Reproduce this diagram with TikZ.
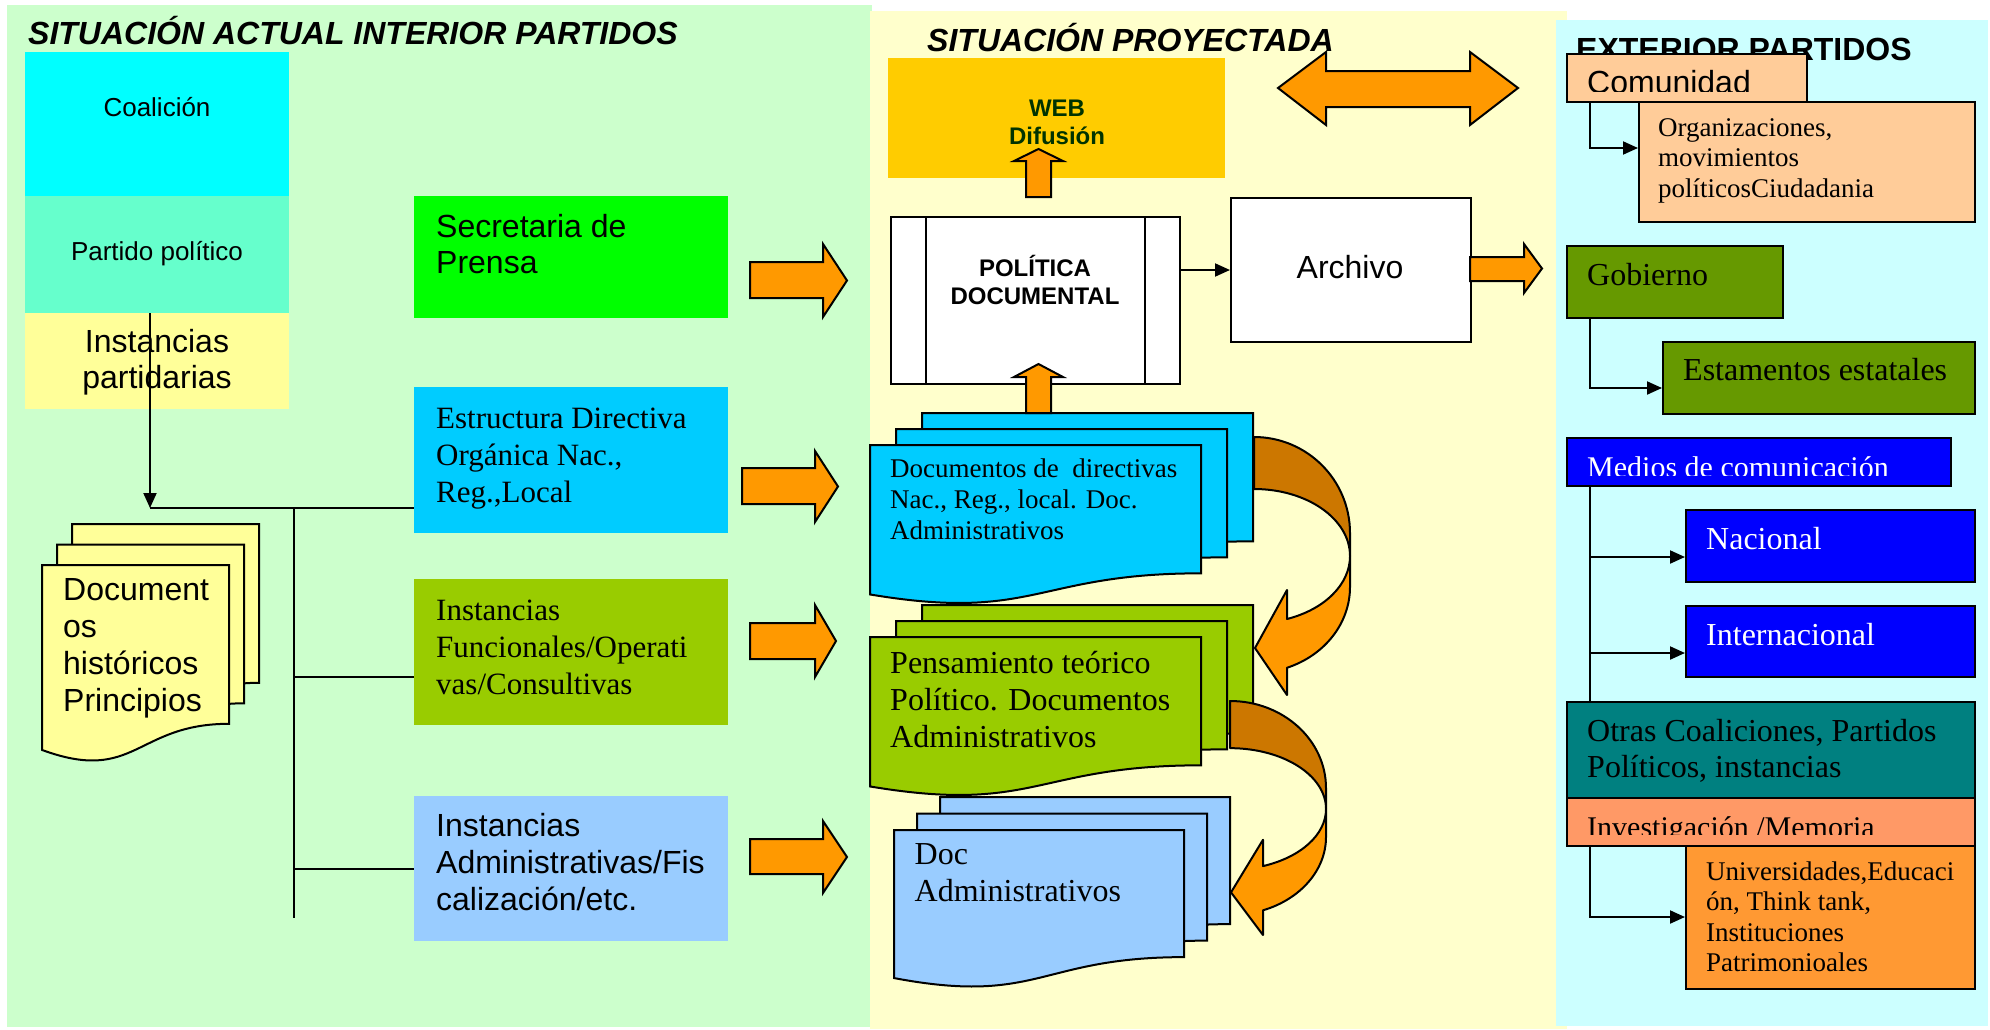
\documentclass[tikz,border=0pt]{standalone}
\usepackage{fontspec}
\setmainfont{Liberation Serif}
\setsansfont{Liberation Sans}
\usetikzlibrary{arrows.meta,calc}
\definecolor{pgreen}{HTML}{CCFFCC}
\definecolor{pyellow}{HTML}{FFFFCC}
\definecolor{pcyan}{HTML}{CCFFFF}
\definecolor{cCoal}{HTML}{00FFFF}
\definecolor{cPart}{HTML}{66FFCC}
\definecolor{cInst}{HTML}{FFFF99}
\definecolor{cSec}{HTML}{00FF00}
\definecolor{cEst}{HTML}{00CCFF}
\definecolor{cFun}{HTML}{99CC00}
\definecolor{cAdm}{HTML}{99CCFF}
\definecolor{orangeA}{HTML}{FF9900}
\definecolor{ribbon}{HTML}{CC7700}
\definecolor{cWeb}{HTML}{FFCC00}
\definecolor{webtext}{HTML}{003300}
\definecolor{cCom}{HTML}{FFCC99}
\definecolor{cGob}{HTML}{669900}
\definecolor{cMed}{HTML}{0000FF}
\definecolor{cOtr}{HTML}{008080}
\definecolor{cInv}{HTML}{FF9966}
\definecolor{cUni}{HTML}{FF9933}
\newcommand\fsz[2]{\fontsize{#1}{#2}\selectfont}
\newcommand\linesL[1]{\vtop{\halign{##\hfil\cr#1\crcr}}}
\newcommand\linesC[1]{\vtop{\halign{\hfil##\hfil\cr#1\crcr}}}
\tikzset{
  box/.style={draw=black, line width=2pt, inner sep=0pt, anchor=north west},
  flat/.style={inner sep=0pt, anchor=north west},
  conn/.style={line width=2pt, draw=black},
  arr/.style={conn, -{Triangle[length=15pt,width=13pt]}},
  blockarrow/.style={fill=orangeA, draw=black, line width=2pt, line join=miter},
  txt/.style={inner sep=0pt, anchor=base west},
  ctxt/.style={inner sep=0pt, anchor=base},
  sansA/.style={font=\sffamily\fsz{32}{37}},
  serA/.style={font=\rmfamily\fsz{31}{37}},
  serB/.style={font=\rmfamily\fsz{32}{36}},
  serC/.style={font=\rmfamily\fsz{27}{30.5}},
  ttl/.style={inner sep=0pt, anchor=base west, font=\sffamily\bfseries\fsz{32}{36}},
}
% right block arrow: x0, xhead, xtip, shaft y1, shaft y2, head y1, head y2
\newcommand\rarrow[7]{\filldraw[blockarrow] (#1,#4) -- (#2,#4) -- (#2,#6) -- (#3,{(#6+#7)/2}) -- (#2,#7) -- (#2,#5) -- (#1,#5) -- cycle;}
% up block arrow: shaft x1, shaft x2, head x1, head x2, bottom y, head base y, tip y
\newcommand\uarrow[7]{\filldraw[blockarrow] (#1,#5) -- (#1,#6) -- (#3,#6) -- ({(#3+#4)/2},#7) -- (#4,#6) -- (#2,#6) -- (#2,#5) -- cycle;}
% document page: fill, x, y top, w, h
\newcommand\docpage[5]{\filldraw[fill=#1, draw=black, line width=2pt] (#2,#3) -- ({#2+#4},#3) -- ({#2+#4},{#3+0.802*#5}) .. controls ({#2+0.5*#4},{#3+0.802*#5}) and ({#2+0.5*#4},{#3+1.1075*#5}) .. (#2,{#3+0.934*#5}) -- cycle;}
% stack of three pages: fill, front x, front y, w, h, dx, dy
\newcommand\docstack[7]{\docpage{#1}{#2+2*#6}{#3-2*#7}{#4}{#5}\docpage{#1}{#2+#6}{#3-#7}{#4}{#5}\docpage{#1}{#2}{#3}{#4}{#5}}
% curved left arrow: x, y, yscale
\newcommand\curvarrow[3]{\begin{scope}[shift={(#1,#2)}, yscale=#3]
\filldraw[fill=ribbon, draw=black, line width=2pt, line join=round] (0,0) arc[start angle=-90, end angle=0, radius=96] -- (96,119) arc[start angle=0, end angle=-90, x radius=96, y radius=67] -- cycle;
\filldraw[fill=orangeA, draw=black, line width=2pt, line join=round] (96,119) -- (96,150) arc[start angle=0, end angle=69.9, x radius=96, y radius=86] -- (33,258) -- (1,211) -- (33,153) -- (33,182) arc[start angle=69.9, end angle=0, x radius=96, y radius=67] -- cycle;
\end{scope}}
\begin{document}
\begin{tikzpicture}[x=1pt,y=-1pt]
\useasboundingbox[fill=white] (0,0) rectangle (1990,1029);
% ---------------- left panel ----------------
\fill[pgreen] (7,5) rectangle (872,1027);
\node[ttl, font=\sffamily\bfseries\itshape\fsz{32}{36}] (title1) at (28,44) {SITUACIÓN ACTUAL INTERIOR PARTIDOS};
\node[flat, fill=cCoal, minimum width=264pt, minimum height=144pt] (coal) at (25,52) {};
\node[flat, fill=cPart, minimum width=264pt, minimum height=117pt] (part) at (25,196) {};
\node[flat, fill=cInst, minimum width=264pt, minimum height=96pt] (inst) at (25,313) {};
\node[ctxt, font=\sffamily\fsz{26}{30}] (coalt) at (157,116) {Coalición};
\node[ctxt, font=\sffamily\fsz{26}{30}] (partt) at (157,260) {Partido político};
\node[ctxt, font=\sffamily\fsz{32}{36}] (instt) at (157,352) {\linesC{Instancias\cr partidarias}};
\node[flat, fill=cSec, minimum width=314pt, minimum height=122pt] (sec) at (414,196) {};
\node[txt, font=\sffamily\fsz{32}{36}] (sect) at (436,237) {\linesL{Secretaria de\cr Prensa}};
\node[flat, fill=cEst, minimum width=314pt, minimum height=146pt] (est) at (414,387) {};
\node[txt, serA] (estt) at (436,428) {\linesL{Estructura Directiva\cr Orgánica Nac.,\cr Reg.,Local}};
\node[flat, fill=cFun, minimum width=314pt, minimum height=146pt] (fun) at (414,579) {};
\node[txt, serA] (funt) at (436,620) {\linesL{Instancias\cr Funcionales/Operati\cr vas/Consultivas}};
\node[flat, fill=cAdm, minimum width=314pt, minimum height=145pt] (adm) at (414,796) {};
\node[txt, sansA] (admt) at (436,836) {\linesL{Instancias\cr Administrativas/Fis\cr calización/etc.}};
% historic documents
\docstack{cInst}{42}{565}{187}{198}{15}{20.5}
\node[txt, sansA] (hist) at (63,600) {\linesL{Document\cr os\cr históricos\cr Principios}};
% connectors
\coordinate (j1) at (150,508);
\draw[arr] (inst.north -| j1) -- (j1);
\draw[conn] (j1) -- (j1 -| est.west);
\coordinate (tr1) at (294,508);
\coordinate (tr2) at (294,918);
\draw[conn] (tr1) -- (tr2);
\coordinate (b2) at (294,677);
\coordinate (b3) at (294,869);
\draw[conn] (b2) -- (b2 -| fun.west);
\draw[conn] (b3) -- (b3 -| adm.west);
% block arrows to the middle
\rarrow{750}{823}{847}{262}{298}{244}{317}
\rarrow{742}{815}{838}{468}{504}{451}{522}
\rarrow{750}{815}{836}{623}{659}{605}{677}
\rarrow{750}{823}{847}{839}{874}{821}{893}
% ---------------- middle panel ----------------
\fill[pyellow] (870,11) rectangle (1567,1029);
\node[ttl, font=\sffamily\bfseries\itshape\fsz{32}{36}] (title2) at (927,51) {SITUACIÓN PROYECTADA};
\node[flat, fill=cWeb, minimum width=337pt, minimum height=120pt] (web) at (888,58) {};
\node[ctxt, font=\sffamily\bfseries\fsz{24}{28}, text=webtext] (webt) at (1057,116) {\linesC{WEB\cr Difusión}};
\uarrow{1026}{1051}{1014}{1063}{197}{161}{149}
\node[box, fill=white, minimum width=289pt, minimum height=167pt] (pol) at (890,216) {};
\draw[conn] ($(pol.north west)+(36,0)$) -- ($(pol.south west)+(36,0)$);
\draw[conn] ($(pol.north east)+(-36,0)$) -- ($(pol.south east)+(-36,0)$);
\node[ctxt, font=\sffamily\bfseries\fsz{24}{28}] (polt) at (1035,276) {\linesC{POLÍTICA\cr DOCUMENTAL}};
\node[box, fill=white, minimum width=240pt, minimum height=144pt] (arch) at (1230,197) {};
\node[ctxt, font=\sffamily\fsz{32}{36}] (archt) at (1350,278) {Archivo};
\draw[arr] (pol.east |- arch.west) -- (arch.west);
\rarrow{1470}{1524}{1542}{257}{281}{244}{293}
\filldraw[blockarrow] (1278,88) -- (1326,52) -- (1326,71) -- (1470,71) -- (1470,52) -- (1518,88) -- (1470,125) -- (1470,107) -- (1326,107) -- (1326,125) -- cycle;
% document stacks
\docstack{cEst}{870}{445}{331}{160}{26}{16}
\node[txt, font=\rmfamily\fsz{27}{31}] (d1t) at (890,477) {\linesL{Documentos de\ \ directivas\cr Nac., Reg., local. Doc.\cr Administrativos}};
\uarrow{1026}{1051}{1014}{1063}{413}{377}{364}
\docstack{cFun}{870}{637}{331}{160}{26}{16}
\node[txt, font=\rmfamily\fsz{32}{37}] (d2t) at (890,673) {\linesL{Pensamiento teórico\cr Político. Documentos\cr Administrativos}};
\docstack{cAdm}{894}{830}{290}{158.5}{23}{16.5}
\node[txt, font=\rmfamily\fsz{32}{37.5}] (d3t) at (914.5,864) {\linesL{Doc\cr Administrativos}};
\curvarrow{1254}{437}{1}
\curvarrow{1230}{701}{0.907}
% ---------------- right panel ----------------
\fill[pcyan] (1556,20) rectangle (1988,1026);
\node[ttl] (title3) at (1576,60) {EXTERIOR PARTIDOS};
\node[box, fill=cCom, minimum width=240pt, minimum height=48pt] (com) at (1566,53) {};
\begin{scope}
\clip (1566,53) rectangle (1806,91);
\node[txt, font=\sffamily\fsz{32}{36}] (comt) at (1587,93) {Comunidad};
\end{scope}
\node[box, fill=cCom, minimum width=336pt, minimum height=120pt] (org) at (1638,101) {};
\node[txt, serC] (orgt) at (1658,136) {\linesL{Organizaciones,\cr movimientos\cr políticosCiudadania}};
\coordinate (k1) at (1590,148);
\draw[arr] (k1 |- com.south) |- (org.west |- k1);
\node[box, fill=cGob, minimum width=216pt, minimum height=72pt] (gob) at (1566,245) {};
\node[txt, serB] (gobt) at (1587,285) {Gobierno};
\node[box, fill=cGob, minimum width=312pt, minimum height=72pt] (estm) at (1662,341) {};
\node[txt, serB] (estmt) at (1683,380) {Estamentos estatales};
\coordinate (k2) at (1590,388);
\draw[arr] (k2 |- gob.south) |- (estm.west |- k2);
\node[box, fill=cMed, minimum width=384pt, minimum height=48pt] (med) at (1566,437) {};
\begin{scope}
\clip (1566,437) rectangle (1950,475);
\node[txt, font=\rmfamily\fsz{30}{34}, text=white] (medt) at (1587,477) {Medios de comunicación};
\end{scope}
\node[box, fill=cMed, minimum width=289pt, minimum height=72pt] (nac) at (1685,509) {};
\node[txt, serB, text=white] (nact) at (1706,549) {Nacional};
\node[box, fill=cMed, minimum width=289pt, minimum height=71pt] (int) at (1685,605) {};
\node[txt, serB, text=white] (intt) at (1706,645) {Internacional};
\coordinate (k3) at (1590,557);
\coordinate (k4) at (1590,653);
\node[box, fill=cOtr, minimum width=408pt, minimum height=96pt] (otr) at (1566,701) {};
\node[txt, serB] (otrt) at (1587,741) {\linesL{Otras Coaliciones, Partidos\cr Políticos, instancias}};
\draw[conn] (med.south -| k3) -- (otr.north -| k3);
\draw[arr] (k3) -- (k3 -| nac.west);
\draw[arr] (k4) -- (k4 -| int.west);
\node[box, fill=cInv, minimum width=408pt, minimum height=48pt] (inv) at (1566,797) {};
\begin{scope}
\clip (1566,797) rectangle (1974,834);
\node[txt, font=\rmfamily\fsz{30}{34}] (invt) at (1587,837) {Investigación /Memoria};
\end{scope}
\node[box, fill=cUni, minimum width=289pt, minimum height=143pt] (uni) at (1685,845) {};
\node[txt, serC] (unit) at (1706,880) {\linesL{Universidades,Educaci\cr ón, Think tank,\cr Instituciones\cr Patrimonioales}};
\coordinate (k5) at (1590,917);
\draw[arr] (k5 |- inv.south) |- (uni.west |- k5);
\end{tikzpicture}
\end{document}
